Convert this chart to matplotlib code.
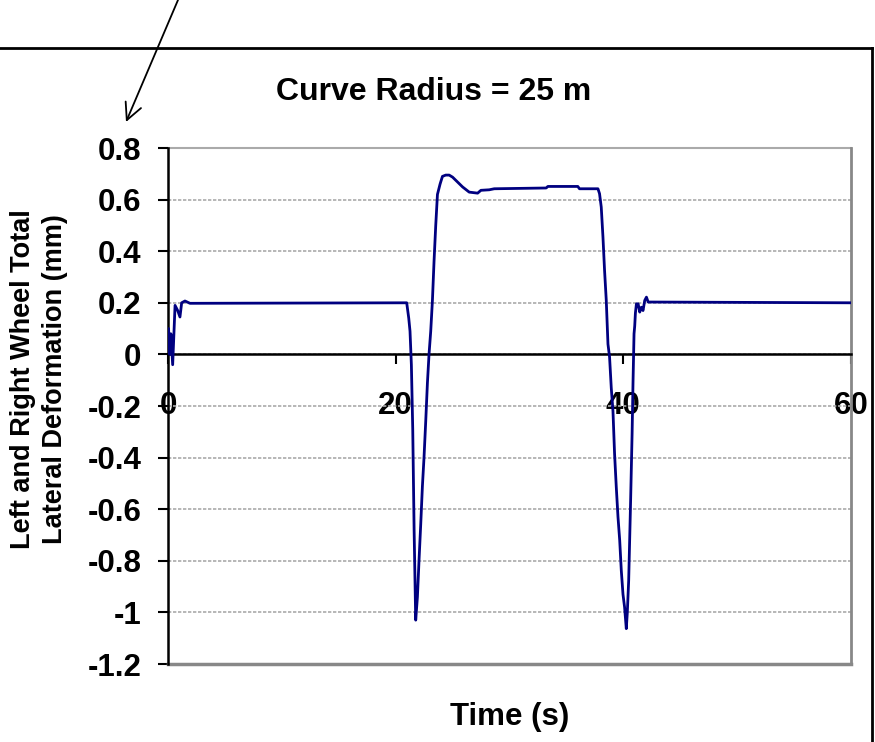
import matplotlib.pyplot as plt
from matplotlib.lines import Line2D

plt.rcParams['font.family'] = ['Liberation Sans', 'DejaVu Sans']
plt.rcParams['font.weight'] = 'bold'

# deformation trace, time in s and deformation in mm
time_s = [0.0, 0.05, 0.15, 0.25, 0.41, 0.62, 0.85, 1.05, 1.2, 1.49, 1.93,
          20.97, 21.15, 21.26, 21.38, 21.5, 21.62, 21.76,
          21.91, 22.05, 22.2, 22.35, 22.49, 22.64, 22.79, 22.93, 23.08,
          23.23, 23.37, 23.52, 23.67, 23.9, 24.11, 24.4, 24.7, 25.0,
          25.44, 25.88, 26.46, 27.2, 27.49, 28.22, 28.66, 33.22, 33.37,
          36.0, 36.15, 37.77, 37.91, 38.06, 38.21, 38.35, 38.5,
          38.65, 38.79, 38.94, 39.09, 39.23, 39.38, 39.53, 39.68, 39.82,
          39.97, 40.11, 40.26, 40.35, 40.47, 40.64, 40.77, 40.85, 40.94,
          41.0, 41.06, 41.15, 41.3, 41.44, 41.59, 41.73, 41.88, 42.03,
          42.18, 60.0]
deform_mm = [0.03, 0.1, 0.0, 0.08, -0.04, 0.19, 0.17, 0.145, 0.2, 0.207, 0.198,
             0.2, 0.14, 0.09, -0.04, -0.29, -0.68, -1.03,
             -0.94, -0.8, -0.66, -0.51, -0.40, -0.26, -0.11, 0.0, 0.09,
             0.21, 0.36, 0.5, 0.62, 0.66, 0.69, 0.695, 0.695, 0.687,
             0.668, 0.649, 0.629, 0.625, 0.636, 0.638, 0.642, 0.645, 0.651,
             0.651, 0.642, 0.642, 0.623, 0.571, 0.455, 0.326, 0.21,
             0.04, -0.01, -0.13, -0.22, -0.385, -0.514, -0.63, -0.72, -0.837,
             -0.93, -0.98, -1.063, -1.0, -0.876, -0.566, -0.307, -0.11, 0.08,
             0.11, 0.16, 0.196, 0.196, 0.164, 0.183, 0.17, 0.209, 0.222,
             0.203, 0.2]

x_ticks = [0, 20, 40, 60]
y_ticks = [0.8, 0.6, 0.4, 0.2, 0, -0.2, -0.4, -0.6, -0.8, -1, -1.2]
y_labels = ['0.8', '0.6', '0.4', '0.2', '0', '-0.2', '-0.4', '-0.6', '-0.8', '-1', '-1.2']

W, H = 875, 742
fig = plt.figure(figsize=(W / 100, H / 100), dpi=100)
ax = fig.add_axes([168 / W, 1 - 664 / H, (851 - 168) / W, (664 - 148) / H])

ax.plot(time_s, deform_mm, color='#000080', lw=2.0, zorder=3)

ax.set_xlim(0, 60)
ax.set_ylim(-1.2, 0.8)
ax.set_xticks(x_ticks)
ax.set_yticks(y_ticks)
ax.set_yticklabels(y_labels)
ax.tick_params(axis='both', labelsize=22.5, width=1.5, length=7, colors='black')
ax.tick_params(axis='x', pad=19)
ax.tick_params(axis='y', pad=12)
ax.grid(axis='y', color='#aaaaaa', lw=1.2, linestyle=(0, (2, 1)), zorder=0)

ax.spines['bottom'].set_position(('data', 0))
ax.spines['bottom'].set_color('black')
ax.spines['bottom'].set_linewidth(1.8)
ax.spines['left'].set_linewidth(1.8)
ax.spines['top'].set_visible(False)
ax.spines['right'].set_color('#888888')
ax.spines['right'].set_linewidth(2)
# grey frame along the bottom and top of the plot area
ax.plot([0, 60], [-1.2, -1.2], color='#888888', lw=2.5, clip_on=False, zorder=2)
ax.plot([0, 60], [0.8, 0.8], color='#aaaaaa', lw=1.5, clip_on=False, zorder=1)

fig.text(434 / W, 1 - 92 / H, 'Curve Radius = 25 m', fontsize=23,
         fontweight='bold', ha='center', va='center')
fig.text(510 / W, 1 - 717 / H, 'Time (s)', fontsize=22.5,
         fontweight='bold', ha='center', va='center')
fig.text(39 / W, 1 - 379 / H, 'Left and Right Wheel Total\nLateral Deformation (mm)',
         fontsize=19.5, fontweight='bold', rotation=90, ha='center', va='center',
         multialignment='center', linespacing=1.3)

# outer border and pointer arrow
fig.add_artist(Line2D([0, 872 / W], [1 - 48 / H, 1 - 48 / H], color='black', lw=2,
                      transform=fig.transFigure))
fig.add_artist(Line2D([872 / W, 872 / W], [1 - 48 / H, 0], color='black', lw=2,
                      transform=fig.transFigure))
ax.annotate('', xy=(126 / W, 1 - 122 / H), xytext=(178 / W, 1.0),
            xycoords='figure fraction', textcoords='figure fraction',
            arrowprops=dict(arrowstyle='->', color='black', lw=1.3,
                            mutation_scale=30, shrinkA=0, shrinkB=0))

fig.savefig('out.png', dpi=100)
